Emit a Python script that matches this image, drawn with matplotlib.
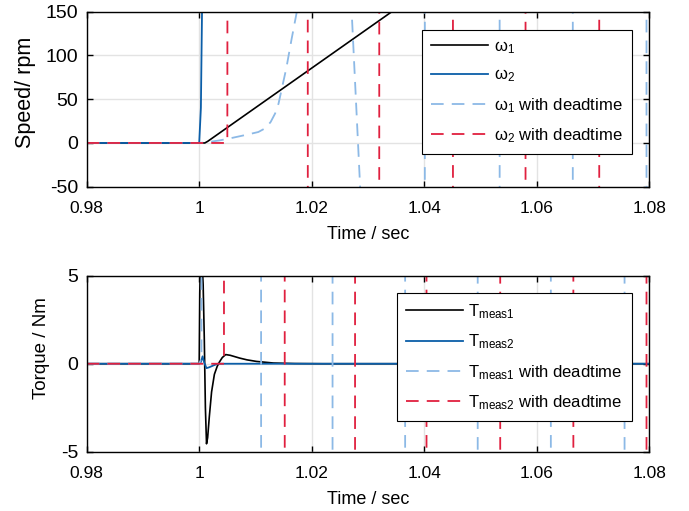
import matplotlib
matplotlib.use("Agg")
import matplotlib.pyplot as plt

plt.rcParams['font.family'] = ['Liberation Sans', 'DejaVu Sans']
plt.rcParams['mathtext.fontset'] = 'custom'
plt.rcParams['mathtext.rm'] = 'Liberation Sans'
plt.rcParams['mathtext.it'] = 'Liberation Sans:italic'
plt.rcParams['axes.unicode_minus'] = False

# ---- speed data (rpm) ----
t_w1 = [0.98, 1.0, 1.001, 1.0015, 1.036]
w1 = [0, 0, 0, 1.8, 158]

t_w2 = [0.98, 1.0, 1.0003, 1.0005, 1.0008]
w2 = [0, 0, 40, 150, 2000]

t_w1_dt = [0.98, 1.0, 1.001, 1.0037, 1.0060, 1.0085, 1.0105, 1.0118, 1.0127,
           1.0135, 1.0141, 1.0147, 1.0155, 1.0164, 1.0175,
           1.0195, 1.0222, 1.0250, 1.0271, 1.0286, 1.0300, 1.0340, 1.0400,
           1.0402, 1.0533, 1.0535, 1.0663, 1.0665, 1.0794, 1.0796, 1.085]
w1_dt = [0, 0, 0.5, 3, 6, 9.5, 12.5, 17, 24,
         33.8, 45, 62.5, 86, 118, 155,
         600, 840, 600, 150, -50, -900, -2500, -3000,
         3000, 6000, -6000, -12000, 12000, 24000, -24000, -24000]

t_w2_dt = [0.98, 1.0, 1.0046, 1.0050, 1.0052, 1.0192, 1.0194, 1.0319, 1.0321,
           1.0450, 1.0452, 1.0579, 1.0581, 1.0710, 1.0712, 1.085]
w2_dt = [0, 0, 0, 2, 2000, 2000, -2000, -4000, 4000,
         8000, -8000, -16000, 16000, 30000, -30000, -30000]

# ---- torque data (Nm) ----
t_T1 = [0.98, 1.0, 1.0001, 1.0002, 1.0005, 1.0007, 1.0009, 1.0011, 1.0013,
        1.0015, 1.0018, 1.0022, 1.0027, 1.0032, 1.0036, 1.0041, 1.0047,
        1.0055, 1.0072, 1.0085, 1.0102, 1.0132, 1.017, 1.022, 1.085]
T1 = [0, 0, 4, 5.6, 5.8, 4.5, 1.5, -2.5, -4.55,
      -4.2, -3.0, -1.6, -0.6, -0.15, 0.1, 0.35, 0.52,
      0.48, 0.32, 0.22, 0.13, 0.04, 0.01, 0, 0]

t_T2 = [0.98, 1.0, 1.0003, 1.0006, 1.0009, 1.0013, 1.0018, 1.0025, 1.0033, 1.085]
T2 = [0, 0, 0.1, 0.42, 0.05, -0.25, -0.2, -0.1, 0, 0]

t_T1_dt = [0.98, 1.0, 1.0004, 1.0007, 1.0109, 1.0111, 1.0236, 1.0238, 1.0365,
           1.0367, 1.0494, 1.0496, 1.0624, 1.0626, 1.0755, 1.0757, 1.085]
T1_dt = [0, 0, 0.3, 200, 200, -200, -400, 400, 800,
         -800, -1600, 1600, 3200, -3200, -6400, 6400, 6400]

t_T2_dt = [0.98, 1.0, 1.0044, 1.0046, 1.0151, 1.0153, 1.0276, 1.0278, 1.0403,
           1.0405, 1.0534, 1.0536, 1.0664, 1.0666, 1.0794, 1.0796, 1.085]
T2_dt = [0, 0, 0, 200, 200, -200, -400, 400, 800,
         -800, -1600, 1600, 3200, -3200, -6400, 6400, 6400]

x_ticks = [0.98, 1.0, 1.02, 1.04, 1.06, 1.08]
x_ticklabels = ['0.98', '1', '1.02', '1.04', '1.06', '1.08']
speed_ticks = [-50, 0, 50, 100, 150]
torque_ticks = [-5, 0, 5]

C_BLUE = '#0b5ea8'
C_LBLUE = '#8cb9e6'
C_RED = '#e0203f'
DASH = (0, (7, 4.5))


def style_axes(ax):
    ax.set_xlim(0.98, 1.08)
    ax.set_xticks(x_ticks)
    ax.set_xticklabels(x_ticklabels)
    ax.tick_params(direction='in', top=True, right=True, length=4, width=1)
    ax.tick_params(axis='x', labelsize=12.5, pad=10.5)
    ax.tick_params(axis='y', labelsize=14, pad=6)
    ax.grid(True, color='#e3e3e3', linewidth=1.0)
    ax.set_axisbelow(True)
    for s in ax.spines.values():
        s.set_linewidth(1.0)
    ax.set_xlabel('Time / sec', fontsize=13, labelpad=7)


def add_legend(ax, top):
    leg = ax.legend(loc='upper right', bbox_to_anchor=(0.9687, top), borderaxespad=0,
                    fontsize=12, handlelength=3.4, handletextpad=0.35,
                    labelspacing=0.7, borderpad=0.55,
                    fancybox=False, edgecolor='black', framealpha=1)
    leg.get_frame().set_linewidth(0.8)


fig = plt.figure(figsize=(6.89, 5.11), dpi=100)
ax1 = fig.add_axes([0.1258, 0.6346, 0.8166, 0.3425])
ax2 = fig.add_axes([0.1258, 0.1160, 0.8166, 0.3444])

ax1.plot(t_w1, w1, color='black', lw=1.2, label='ω$_1$')
ax1.plot(t_w2, w2, color=C_BLUE, lw=1.3, label='ω$_2$')
ax1.plot(t_w1_dt, w1_dt, color=C_LBLUE, lw=1.3, ls=DASH, label='ω$_1$ with deadtime')
ax1.plot(t_w2_dt, w2_dt, color=C_RED, lw=1.3, ls=DASH, label='ω$_2$ with deadtime')
style_axes(ax1)
ax1.set_ylim(-50, 150)
ax1.set_yticks(speed_ticks)
ax1.set_ylabel('Speed/ rpm', fontsize=15.5)
ax1.yaxis.set_label_coords(-0.090, 0.541)
add_legend(ax1, 0.8954)

ax2.plot(t_T1, T1, color='black', lw=1.2, label='T$_{\\mathrm{meas1}}$')
ax2.plot(t_T2, T2, color=C_BLUE, lw=1.3, label='T$_{\\mathrm{meas2}}$')
ax2.plot(t_T1_dt, T1_dt, color=C_LBLUE, lw=1.3, ls=DASH, label='T$_{\\mathrm{meas1}}$ with deadtime')
ax2.plot(t_T2_dt, T2_dt, color=C_RED, lw=1.3, ls=DASH, label='T$_{\\mathrm{meas2}}$ with deadtime')
style_axes(ax2)
ax2.set_ylim(-5, 5)
ax2.set_yticks(torque_ticks)
ax2.set_ylabel('Torque / Nm', fontsize=13.5)
ax2.yaxis.set_label_coords(-0.0652, 0.589)
add_legend(ax2, 0.9017)

fig.savefig('out.png', dpi=100)
